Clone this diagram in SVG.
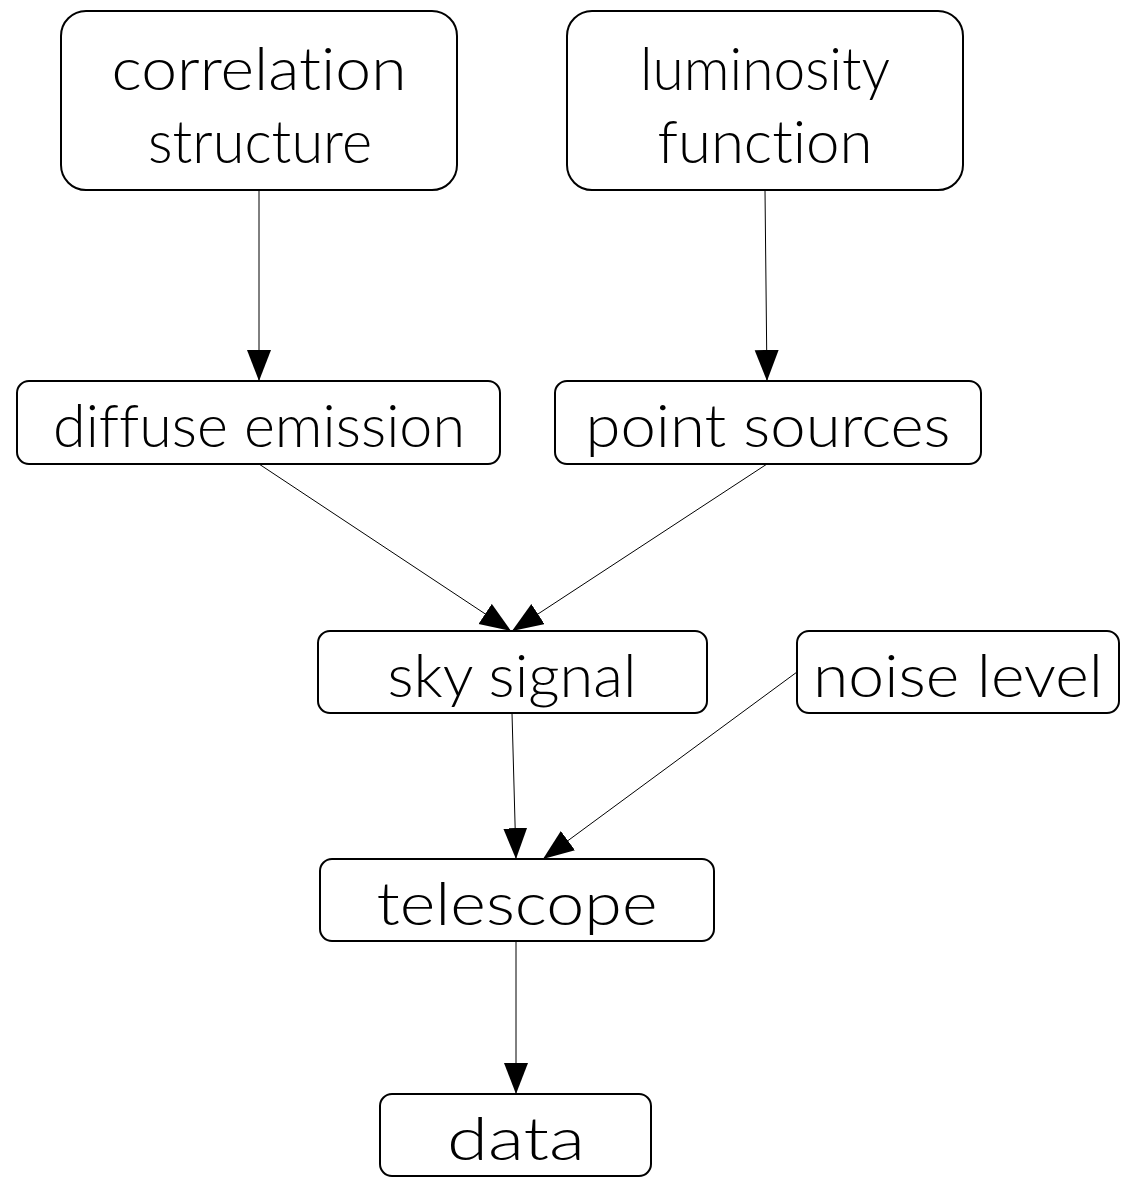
<svg xmlns="http://www.w3.org/2000/svg" width="1121" height="1180" viewBox="0 0 1121 1180">
<style>
.node rect{fill:#fff;stroke:#000;stroke-width:2}
.node text{font-family:"Lato","DejaVu Sans","Liberation Sans",sans-serif;font-weight:300;font-size:60px;fill:#000;text-anchor:middle;font-variant-ligatures:none;font-feature-settings:"liga" 0,"clig" 0}
.edges line{stroke:#000;stroke-width:1}
</style>
<defs>
<marker id="ah" markerUnits="userSpaceOnUse" markerWidth="32" markerHeight="26" refX="31" refY="12" orient="auto" viewBox="0 0 32 26">
<path d="M0,0 L31,12 L0,24 z" fill="#000"/>
</marker>
</defs>
<rect width="1121" height="1180" fill="#fff"/>
<g class="edges">
<line x1="259" y1="190" x2="259" y2="381" marker-end="url(#ah)"/>
<line x1="765" y1="190" x2="767" y2="381" marker-end="url(#ah)"/>
<line x1="259" y1="464" x2="511" y2="631" marker-end="url(#ah)"/>
<line x1="767" y1="464" x2="512" y2="631" marker-end="url(#ah)"/>
<line x1="512" y1="713" x2="516" y2="859" marker-end="url(#ah)"/>
<line x1="797" y1="672" x2="543" y2="859" marker-end="url(#ah)"/>
<line x1="516" y1="941" x2="516" y2="1094" marker-end="url(#ah)"/>
</g>
<g id="correlation" class="node">
<rect x="61" y="11" width="396" height="179" rx="25"/>
<text x="259" y="90" textLength="295" lengthAdjust="spacingAndGlyphs">correlation</text>
<text x="260" y="163" textLength="224" lengthAdjust="spacingAndGlyphs">structure</text>
</g>
<g id="luminosity" class="node">
<rect x="567" y="11" width="396" height="179" rx="25"/>
<text x="765" y="90" textLength="250" lengthAdjust="spacingAndGlyphs">luminosity</text>
<text x="765" y="163" textLength="215" lengthAdjust="spacingAndGlyphs">function</text>
</g>
<g id="diffuse" class="node">
<rect x="17" y="381" width="483" height="83" rx="12"/>
<text x="259" y="447" textLength="412" lengthAdjust="spacingAndGlyphs">diffuse emission</text>
</g>
<g id="point" class="node">
<rect x="555" y="381" width="426" height="83" rx="12"/>
<text x="768" y="447" textLength="365" lengthAdjust="spacingAndGlyphs">point sources</text>
</g>
<g id="sky" class="node">
<rect x="318" y="631" width="389" height="82" rx="12"/>
<text x="512" y="697" textLength="249" lengthAdjust="spacingAndGlyphs">sky signal</text>
</g>
<g id="noise" class="node">
<rect x="797" y="631" width="322" height="82" rx="12"/>
<text x="958" y="697" textLength="290" lengthAdjust="spacingAndGlyphs">noise level</text>
</g>
<g id="telescope" class="node">
<rect x="320" y="859" width="394" height="82" rx="12"/>
<text x="517" y="925" textLength="281" lengthAdjust="spacingAndGlyphs">telescope</text>
</g>
<g id="data" class="node">
<rect x="380" y="1094" width="271" height="82" rx="12"/>
<text x="516" y="1160" textLength="138" lengthAdjust="spacingAndGlyphs">data</text>
</g>
</svg>
